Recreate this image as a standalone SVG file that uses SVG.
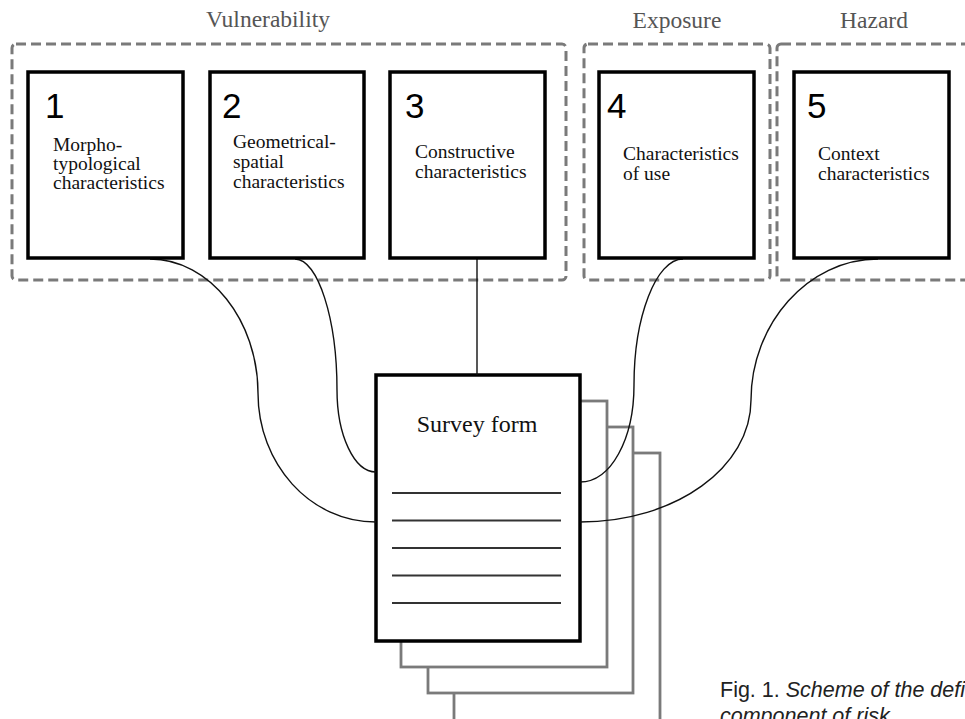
<svg xmlns="http://www.w3.org/2000/svg" width="965" height="719" viewBox="0 0 965 719">
<style>
.grp{fill:none;stroke:#7a7a7a;stroke-width:3;stroke-dasharray:10 5}
.box{fill:#fff;stroke:#000;stroke-width:3.5}
.page{fill:#fff;stroke:#7a7a7a;stroke-width:2.8}
.num{font-family:"Liberation Sans",Arial,sans-serif;font-size:35px;fill:#000}
.lbl{font-family:"Liberation Serif","Times New Roman",serif;font-size:19.5px;fill:#111}
.cat{font-family:"Liberation Serif","Times New Roman",serif;font-size:23.5px;fill:#555;text-anchor:middle}
.rule{stroke:#333;stroke-width:2}
.conn{fill:none;stroke:#111;stroke-width:1.4}
.cap{font-family:"Liberation Sans",Arial,sans-serif;font-size:21.5px;fill:#222}
</style>
<rect width="965" height="719" fill="#fff"/>
<g id="group-vulnerability">
<rect class="grp" x="12" y="44" width="554" height="236" rx="4"/>
<text class="cat" x="268" y="27">Vulnerability</text>
</g>
<g id="group-exposure">
<rect class="grp" x="584" y="44" width="186" height="236" rx="4"/>
<text class="cat" x="677" y="28">Exposure</text>
</g>
<g id="group-hazard">
<rect class="grp" x="777" y="44" width="200" height="236" rx="4"/>
<text class="cat" x="874" y="28">Hazard</text>
</g>
<g id="survey-form">
<rect class="page" x="454" y="453" width="206" height="280"/>
<rect class="page" x="428" y="427" width="205" height="266"/>
<rect class="page" x="401" y="401" width="206" height="266"/>
<rect class="box" x="376" y="375" width="204" height="266"/>
<text x="477" y="432" text-anchor="middle" font-family="Liberation Serif,Times New Roman,serif" font-size="24" fill="#111">Survey form</text>
<line class="rule" x1="392" y1="493" x2="561" y2="493"/>
<line class="rule" x1="392" y1="520.5" x2="561" y2="520.5"/>
<line class="rule" x1="392" y1="548" x2="561" y2="548"/>
<line class="rule" x1="392" y1="575.5" x2="561" y2="575.5"/>
<line class="rule" x1="392" y1="603" x2="561" y2="603"/>
</g>
<g id="connectors">
<path class="conn" d="M150,259 C210,259 258,321 258,393 C258,464 310,522 376,522"/>
<path class="conn" d="M295,259 C318,259 337,319 337,390 C337,435 354,472 376,472"/>
<path class="conn" d="M477,259 L477,375"/>
<path class="conn" d="M683,259 C656,259 634,317 634,385 C634,439 611,482 580,482"/>
<path class="conn" d="M878,259 C808,259 751,324 751,400 C751,467 676,522 580,522"/>
</g>
<g id="node-1">
<rect class="box" x="28" y="72" width="155" height="186"/>
<text class="num" x="45" y="118">1</text>
<text class="lbl" x="53" y="151">Morpho-</text>
<text class="lbl" x="53" y="170">typological</text>
<text class="lbl" x="53" y="189">characteristics</text>
</g>
<g id="node-2">
<rect class="box" x="210" y="72" width="154" height="186"/>
<text class="num" x="222" y="118">2</text>
<text class="lbl" x="233" y="148">Geometrical-</text>
<text class="lbl" x="233" y="168">spatial</text>
<text class="lbl" x="233" y="188">characteristics</text>
</g>
<g id="node-3">
<rect class="box" x="390" y="72" width="155" height="186"/>
<text class="num" x="405" y="118">3</text>
<text class="lbl" x="415" y="158">Constructive</text>
<text class="lbl" x="415" y="178">characteristics</text>
</g>
<g id="node-4">
<rect class="box" x="599" y="72" width="155" height="186"/>
<text class="num" x="607" y="118">4</text>
<text class="lbl" x="623" y="160">Characteristics</text>
<text class="lbl" x="623" y="180">of use</text>
</g>
<g id="node-5">
<rect class="box" x="794" y="72" width="155" height="186"/>
<text class="num" x="807" y="118">5</text>
<text class="lbl" x="818" y="160">Context</text>
<text class="lbl" x="818" y="180">characteristics</text>
</g>
<g id="caption">
<text class="cap" x="720" y="697">Fig. 1. <tspan font-style="italic">Scheme of the defi</tspan></text>
<text class="cap" x="720" y="723" font-style="italic">component of risk</text>
</g>
</svg>
